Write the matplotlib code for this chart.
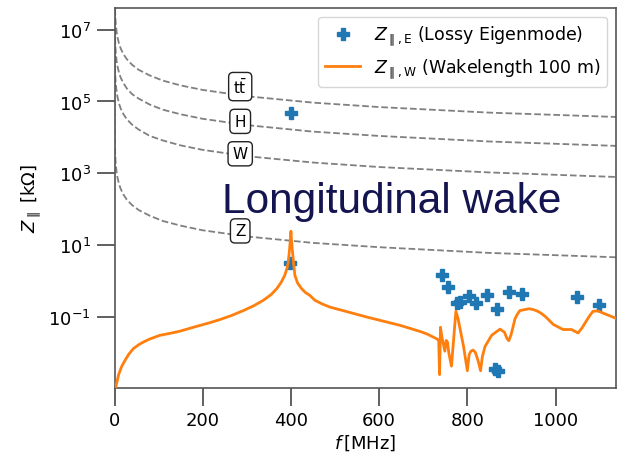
import numpy as np
import matplotlib
matplotlib.use("Agg")
import matplotlib.pyplot as plt
from matplotlib.ticker import NullLocator

# threshold curves, f in MHz, Z in kOhm
thr_f = [1e-4, 1e-3, 1e-2, 0.1, 0.5, 1, 2, 3, 5, 7, 10, 14, 20, 28, 40, 55, 80, 110, 150, 200,
         300, 450, 600, 850, 1140]
thr_names = ["$\\mathrm{t}\\bar{\\mathrm{t}}$", "H", "W", "Z"]
thr_z = [
    [4.2e11, 4.2e10, 4.2e9, 4.2e8, 8.4e7, 4.2e7, 2.1e7, 1.4e7, 8.4e6, 6.0e6, 4.2e6, 3.0e6, 2.1e6,
     1.5e6, 1.05e6, 7.6e5, 5.3e5, 3.8e5, 2.8e5, 2.1e5, 1.4e5, 9.3e4, 7.0e4, 4.9e4, 3.7e4],
    [6.5e10, 6.5e9, 6.5e8, 6.5e7, 1.3e7, 6.5e6, 3.3e6, 2.2e6, 1.3e6, 9.3e5, 6.5e5, 4.6e5, 3.3e5,
     2.3e5, 1.6e5, 1.2e5, 8.2e4, 5.9e4, 4.4e4, 3.3e4, 2.2e4, 1.45e4, 1.1e4, 7.7e3, 5.8e3],
    [9.0e9, 9.0e8, 9.0e7, 9.0e6, 1.8e6, 9.0e5, 4.5e5, 3.0e5, 1.8e5, 1.3e5, 9.0e4, 6.4e4, 4.5e4,
     3.2e4, 2.25e4, 1.65e4, 1.1e4, 8.2e3, 6.0e3, 4.5e3, 3.0e3, 2.0e3, 1.5e3, 1.06e3, 7.9e2],
    [5.2e7, 5.2e6, 5.2e5, 5.2e4, 1.04e4, 5.2e3, 2.6e3, 1.7e3, 1.05e3, 7.4e2, 5.2e2, 3.7e2, 2.6e2,
     1.85e2, 1.3e2, 95, 66, 47, 35, 26, 17.5, 11.6, 8.8, 6.1, 4.6],
]
label_f = 285
label_z = [2.6e5, 2.8e4, 3.5e3, 25]

# lossy eigenmode results
eig_f = [401, 398, 742, 757, 777, 783, 804, 819, 844, 868, 895, 924, 1049, 1098, 862, 870]
eig_z = [4.9e4, 3.25, 1.50, 0.68, 0.245, 0.27, 0.38, 0.25, 0.40, 0.17, 0.50, 0.43, 0.36, 0.22,
         0.0036, 0.0031]

# wake impedance, wakelength 100 m
wake_f = [1, 3, 4, 6.3, 9, 12.5, 17, 23.8, 32, 42.7, 55, 65, 80, 103, 125, 147, 186, 215, 239,
          265, 292, 315, 337, 355, 368, 378, 386, 391, 394, 397, 399, 400, 401, 403, 406, 409,
          415, 424, 433, 443, 454, 470, 488, 530, 572, 647, 692, 708, 730, 735, 737, 739, 743,
          749, 752, 755, 758, 764, 769, 774, 779, 783, 791, 800, 804, 808, 813, 818, 824, 830,
          834, 840, 855, 874, 884, 890, 894, 899, 903, 908, 913, 919, 935, 940, 949, 958, 968,
          978, 995, 1017, 1036, 1051, 1060, 1070, 1078, 1085, 1095, 1100, 1120, 1140]
wake_z = [1e-4, 1.07e-3, 1.32e-3, 1.7e-3, 2.4e-3, 3.2e-3, 4.4e-3, 6.2e-3, 9.1e-3, 1.32e-2,
          1.7e-2, 2.0e-2, 2.45e-2, 3.1e-2, 3.5e-2, 4.0e-2, 5.5e-2, 6.9e-2, 8.5e-2,
          0.11, 0.151, 0.204, 0.29, 0.42, 0.62, 0.93, 1.45, 2.24, 3.4, 7.9, 15.8, 24.5, 15.8,
          7.9, 3.2, 1.45,
          0.89, 0.62, 0.48, 0.40, 0.295, 0.234, 0.19, 0.138, 0.10, 0.059, 0.040, 0.034, 0.025,
          0.0224, 0.0025, 0.052, 0.025,
          0.0112, 0.0224, 0.020, 0.010, 0.0043, 0.025, 0.145, 0.089, 0.050, 0.0162, 0.0032,
          0.0089, 0.0112, 0.012, 0.0105, 0.0063, 0.0032,
          0.0079, 0.0151, 0.031, 0.046, 0.038, 0.025, 0.022, 0.032, 0.050, 0.089, 0.118, 0.151,
          0.166, 0.170, 0.162, 0.148, 0.126,
          0.10, 0.062, 0.045, 0.045, 0.036, 0.050, 0.079, 0.112, 0.145, 0.148, 0.141, 0.112,
          0.089]

fig = plt.figure(figsize=(6.34, 4.6), dpi=100)
ax = fig.add_axes([0.1806, 0.155, 0.791, 0.8254])

for z in thr_z:
    ax.plot(thr_f, z, ls="--", color="grey", lw=1.3, zorder=1)
for name, y in zip(thr_names, label_z):
    ax.text(label_f, y, name, fontsize=11, ha="center", va="center", zorder=3,
            bbox=dict(boxstyle="round,pad=0.3", fc="white", ec="#222222", lw=1))

ax.plot(eig_f, eig_z, ls="none", marker="P", ms=9, color="#1f77b4", zorder=4,
        label="$Z_{\\parallel,\\mathrm{E}}$ (Lossy Eigenmode)")
ax.plot(wake_f, wake_z, color="#ff7f0e", lw=2, zorder=5,
        label="$Z_{\\parallel,\\mathrm{W}}$ (Wakelength 100 m)")

ax.set_yscale("log")
ax.set_xlim(0, 1137)
ax.set_ylim(1.08e-3, 4e7)
ax.set_yticks([1e-1, 1e1, 1e3, 1e5, 1e7])
ax.yaxis.set_minor_locator(NullLocator())
ax.set_xticks([0, 200, 400, 600, 800, 1000])

for s in ax.spines.values():
    s.set_color("#555555")
    s.set_linewidth(1.2)
ax.tick_params(which="major", length=13, width=1.2, color="#444444", labelsize=13, pad=4)

ax.set_xlabel("$f\\,$[MHz]", fontsize=13, labelpad=2)
ax.set_ylabel("$Z_\\parallel$ [k$\\Omega$]", fontsize=13)

ax.legend(loc="upper right", fontsize=12.5, framealpha=0.8)

fig.text(0.350, 0.5376, "Longitudinal wake", fontsize=30.5, family="Liberation Sans",
         color="#141450", ha="left", va="baseline")

fig.savefig("out.png", dpi=100)
